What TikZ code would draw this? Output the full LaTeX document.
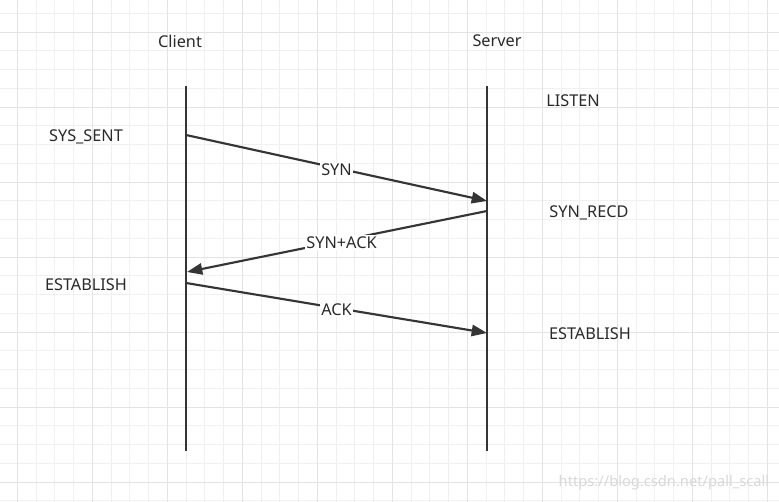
\documentclass[tikz,border=0pt]{standalone}
\usepackage{fontspec}
\setmainfont{Noto Sans}
\usetikzlibrary{arrows.meta}
\definecolor{ink}{HTML}{2A2A2A}
\definecolor{gminor}{HTML}{F0F0F0}
\definecolor{gmajor}{HTML}{E3E3E3}
\begin{document}
\begin{tikzpicture}[x=0.75pt,y=-0.75pt,
  lbl/.style={font=\fontsize{12.2}{14}\selectfont, text=ink, inner sep=1pt, yshift=-1.6pt},
  onarrow/.style={lbl, fill=white},
  life/.style={draw=ink!95, line width=1.9pt},
  msg/.style={draw=ink!95, line width=1.6pt, -{Triangle[length=11.5pt,width=8.5pt]}}]
\useasboundingbox (0,0) rectangle (779,502);
\fill[white] (0,0) rectangle (779,502);
% grid
\foreach \i in {0,...,41} {
  \pgfmathsetmacro{\xx}{17.3+18.75*\i}
  \draw[gminor, line width=0.75pt] (\xx,0) -- (\xx,502);
}
\foreach \i in {0,...,27} {
  \pgfmathsetmacro{\yy}{13.3+18.75*\i}
  \draw[gminor, line width=0.75pt] (0,\yy) -- (779,\yy);
}
\foreach \i in {0,...,10} {
  \pgfmathsetmacro{\xx}{17.3+75*\i}
  \draw[gmajor, line width=0.75pt] (\xx,0) -- (\xx,502);
}
\foreach \i in {0,...,6} {
  \pgfmathsetmacro{\yy}{32.05+75*\i}
  \draw[gmajor, line width=0.75pt] (0,\yy) -- (779,\yy);
}
% headers
\node[lbl] (client) at (180,39) {Client};
\node[lbl] (server) at (497,39) {Server};
% lifelines
\coordinate (ctop) at (186,86);
\coordinate (cbot) at (186,451);
\coordinate (stop) at (487,86);
\coordinate (sbot) at (487,451);
\draw[life] (ctop) -- (cbot);
\draw[life] (stop) -- (sbot);
% message endpoints
\coordinate (c1) at (186,135);
\coordinate (s1) at (487,201);
\coordinate (s2) at (487,211);
\coordinate (c2) at (187,272);
\coordinate (c3) at (186,283);
\coordinate (s3) at (487,333);
\draw[msg] (c1) -- node[onarrow, pos=0.5] (syn) {SYN} (s1);
\draw[msg] (s2) -- node[onarrow, pos=0.485] (synack) {SYN+ACK} (c2);
\draw[msg] (c3) -- node[onarrow, pos=0.5] (ack) {ACK} (s3);
% states
\node[lbl] (listen) at (573,99) {LISTEN};
\node[lbl] (syssent) at (86,135) {SYS\_SENT};
\node[lbl] (synrecd) at (589,211) {SYN\_RECD};
\node[lbl] (estc) at (86,283) {ESTABLISH};
\node[lbl] (ests) at (590,332) {ESTABLISH};
% watermark
\node[font=\fontsize{11}{13}\selectfont, text=black!15, inner sep=0pt] (wm) at (664,483) {https://blog.csdn.net/pall\_scall};
\end{tikzpicture}
\end{document}
